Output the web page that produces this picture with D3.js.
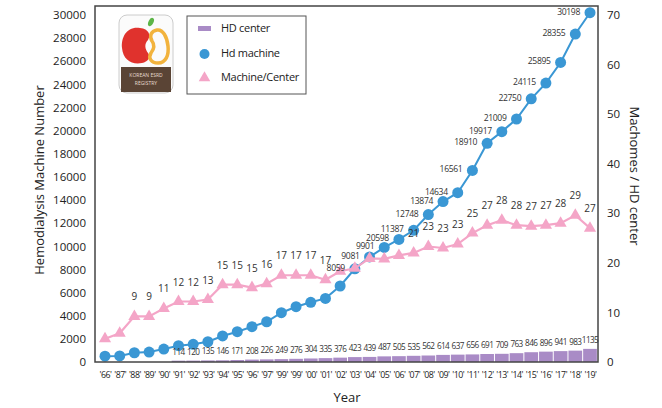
<!DOCTYPE html>
<html><head><meta charset="utf-8">
<script src="https://cdn.jsdelivr.net/npm/d3@7"></script>
<style>body{margin:0;background:#fff}svg{display:block;font-family:"Open Sans",sans-serif}</style>
</head><body><svg id="c" width="662" height="408"></svg>
<script>
const years = ["'66'","'87'","'88'","'89'","'90'","'91'","'92'","'93'","'94'","'95'","'96'","'97'","'99'","'99'","'00'","'01'","'02'","'03'","'04'","'05'","'06'","'07'","'08'","'09'","'10'","'11'","'12'","'13'","'14'","'15'","'16'","'17'","'18'","'19'"];
const hdCenters = [null,null,null,null,null,114,120,135,146,171,208,226,249,276,304,335,376,423,439,487,505,535,562,614,637,656,691,709,763,846,896,941,983,1135];
const hdMachines = [500,520,800,860,1120,1410,1530,1750,2250,2620,3050,3480,4260,4780,5160,5500,6570,8059,9081,9901,10598,11387,12748,13874,14634,16561,18910,19917,21009,22750,24115,25895,28355,30198];
const machineLabels = ["","","","","","","","","","","","","","","","","","8059","9081","9901","20598","11387","12748","13874","14634","16561","18910","19917","21009","22750","24115","25895","28355","30198"];
const ratio = [4.7,5.8,9.2,9.2,10.8,12.2,12.2,12.6,15.6,15.6,15.0,15.8,17.5,17.5,17.5,16.6,18.3,18.9,20.9,20.8,21.5,22.0,23.3,23.0,23.8,26.0,27.6,28.6,27.6,27.4,27.6,28.0,29.6,27.0];
const ratioLabels = ["","","9","9","11","12","12","13","15","15","15","16","17","17","17","17","","","","","","21","23","23","23","25","27","28","28","27","27","28","29","27"];
const leftTicks = d3.range(0, 30001, 2000);
const rightTicks = d3.range(0, 71, 10);
const legendItems = ["HD center","Hd machine","Machine/Center"];

const svg = d3.select("#c");
const idx = d3.range(years.length);
const x = d3.scalePoint().domain(idx).range([105, 590]);
const step = x.step();
const yL = d3.scaleLinear().domain([0, 30000]).range([362, 15]);
const yR = d3.scaleLinear().domain([0, 70]).range([362, 15]);
const PURPLE = "#a98bc6", BLUE = "#3a97d4", PINK = "#f4a5c7", TXT = "#333";

// bars
svg.append("g").selectAll("rect").data(idx.filter(i => hdCenters[i] != null)).join("rect")
  .attr("x", i => x(i) - step/2 + 0.5).attr("width", step - 1)
  .attr("y", i => yL(hdCenters[i])).attr("height", i => yL(0) - yL(hdCenters[i]))
  .attr("fill", PURPLE);

// blue line
svg.append("path").datum(idx).attr("fill","none").attr("stroke",BLUE).attr("stroke-width",2)
  .attr("d", d3.line().x(i => x(i)).y(i => yL(hdMachines[i])));
svg.append("g").selectAll("circle").data(idx).join("circle")
  .attr("cx", i => x(i)).attr("cy", i => yL(hdMachines[i])).attr("r", 5.5).attr("fill", BLUE);

// pink line
svg.append("path").datum(idx).attr("fill","none").attr("stroke",PINK).attr("stroke-width",2.2)
  .attr("d", d3.line().x(i => x(i)).y(i => yR(ratio[i])));
const tri = d3.symbol().type(d3.symbolTriangle).size(64);
svg.append("g").selectAll("path").data(idx).join("path")
  .attr("d", tri).attr("transform", i => `translate(${x(i)},${yR(ratio[i])})`).attr("fill", PINK);

// frame
svg.append("rect").attr("x",95).attr("y",6).attr("width",503).attr("height",356)
  .attr("fill","none").attr("stroke","#444").attr("stroke-width",1.5);

// labels
svg.append("g").selectAll("text").data(idx.filter(i => hdCenters[i] != null)).join("text")
  .attr("x", i => x(i)).attr("y", i => yL(hdCenters[i]) - 6).attr("text-anchor","middle")
  .attr("font-size", 8.2).attr("letter-spacing", -0.6).attr("fill", TXT).text(i => hdCenters[i]);
svg.append("g").selectAll("text").data(idx.filter(i => machineLabels[i])).join("text")
  .attr("x", i => x(i) - 10).attr("y", i => yL(hdMachines[i]) + 2).attr("text-anchor","end")
  .attr("font-size", 8.6).attr("letter-spacing", -0.35).attr("fill", TXT).text(i => machineLabels[i]);
svg.append("g").selectAll("text").data(idx.filter(i => ratioLabels[i])).join("text")
  .attr("x", i => x(i)).attr("y", i => yR(ratio[i]) - 16).attr("text-anchor","middle")
  .attr("font-size", 10).attr("fill", TXT).text(i => ratioLabels[i]);

// axes
const axL = svg.append("g").attr("transform","translate(95,0)")
  .call(d3.axisLeft(yL).tickValues(leftTicks).tickSize(0).tickPadding(9).tickFormat(d3.format("d")));
const axR = svg.append("g").attr("transform","translate(598,0)")
  .call(d3.axisRight(yR).tickValues(rightTicks).tickSize(0).tickPadding(9));
const axB = svg.append("g").attr("transform","translate(0,362)")
  .call(d3.axisBottom(x).tickSize(0).tickPadding(10).tickFormat(i => years[i]));
[axL, axR, axB].forEach(a => { a.select(".domain").remove(); a.selectAll("text").attr("fill","#222").attr("font-family","Open Sans"); });
axL.selectAll("text").attr("font-size", 11.5);
axR.selectAll("text").attr("font-size", 11.5);
axB.selectAll("text").attr("font-size", 8.8).attr("letter-spacing", -0.5);

// titles
svg.append("text").attr("transform","translate(44,180) rotate(-90)").attr("text-anchor","middle")
  .attr("font-size",13).attr("fill","#222").text("Hemodialysis Machine Number");
svg.append("text").attr("transform","translate(630,176) rotate(90)").attr("text-anchor","middle")
  .attr("font-size",13).attr("fill","#222").text("Machomes / HD center");
svg.append("text").attr("x",347).attr("y",402).attr("text-anchor","middle")
  .attr("font-size",13).attr("fill","#222").text("Year");

// legend
const lg = svg.append("g");
lg.append("rect").attr("x",187).attr("y",16).attr("width",119).attr("height",78)
  .attr("fill","#fff").attr("stroke","#555").attr("stroke-width",1);
lg.append("rect").attr("x",198).attr("y",26).attr("width",13).attr("height",5).attr("fill",PURPLE);
lg.append("circle").attr("cx",204.5).attr("cy",54).attr("r",5).attr("fill",BLUE);
lg.append("path").attr("d", d3.symbol().type(d3.symbolTriangle).size(58)).attr("transform","translate(204.5,78)").attr("fill",PINK);
lg.selectAll("text.l").data(legendItems).join("text").attr("class","l")
  .attr("x",221).attr("y",(d,i) => 32 + i*24.5).attr("font-size",11).attr("letter-spacing",-0.3)
  .attr("fill","#222").text(d => d);

// logo
const lo = svg.append("g");
lo.append("rect").attr("x",119).attr("y",15).attr("width",54).attr("height",78).attr("rx",8)
  .attr("fill","#fbfbfb").attr("stroke","#ccc").attr("stroke-width",1);
lo.append("path").attr("d","M140,28 C127,26 121,37 122,48 C123,60 132,65 142,63 C148,62 151,57 148,53 C145,49 144,44 148,40 C151,35 149,29 140,28 Z").attr("fill","#e0322d");
lo.append("path").attr("d","M157,30 C151,31 149,36 152,41 C155,45 154,49 151,53 C148,58 151,63 158,63 C166,63 169,55 168,46 C167,37 163,29 157,30 Z")
  .attr("fill","none").attr("stroke","#f2b33d").attr("stroke-width",3.5);
lo.append("ellipse").attr("cx",151).attr("cy",22).attr("rx",2.5).attr("ry",4.5).attr("transform","rotate(25,151,22)").attr("fill","#5db548");
lo.append("rect").attr("x",121).attr("y",67).attr("width",50).attr("height",25).attr("fill","#5a4435");
lo.append("text").attr("x",146).attr("y",77).attr("text-anchor","middle").attr("font-size",5).attr("fill","#e8ddd0").text("KOREAN ESRD");
lo.append("text").attr("x",146).attr("y",85).attr("text-anchor","middle").attr("font-size",5).attr("fill","#e8ddd0").text("REGISTRY");
</script></body></html>
